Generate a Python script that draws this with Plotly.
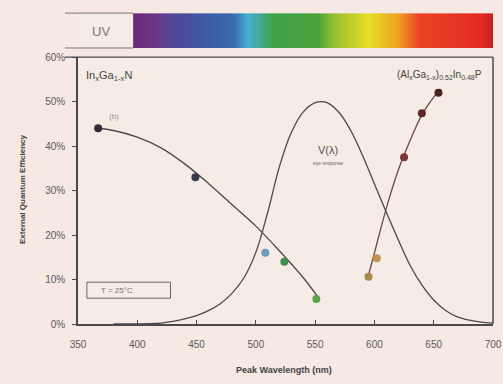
import plotly.graph_objects as go

# ---------------- data ----------------
ingan_wl = [367, 449, 508, 524, 551]
ingan_eqe = [44.0, 33.0, 16.0, 14.0, 5.6]
ingan_colors = ["#3a2a36", "#3a3a52", "#6c9cbc", "#3f8c4c", "#5da244"]

ingan_fit_wl = [367, 380, 400, 420, 440, 460, 480, 500, 520, 540, 552]
ingan_fit_eqe = [44.0, 43.5, 42.0, 39.6, 36.0, 31.6, 26.8, 22.0, 16.4, 10.4, 6.2]

algainp_wl = [595, 602, 625, 640, 654]
algainp_eqe = [10.6, 14.8, 37.5, 47.4, 52.0]
algainp_colors = ["#a88848", "#c49050", "#7a3838", "#5c2828", "#4a2020"]

algainp_fit_wl = [594, 600, 610, 620, 630, 640, 650, 656]
algainp_fit_eqe = [10.0, 16.0, 26.0, 34.5, 41.2, 47.0, 51.0, 52.8]

v_wl = [380, 390, 400, 410, 420, 430, 440, 450, 460, 470, 480, 490, 500, 510, 520,
        530, 540, 550, 555, 560, 570, 580, 590, 600, 610, 620, 630, 640, 650, 660,
        670, 680, 690, 700]
v_pct = [0.0, 0.01, 0.02, 0.06, 0.2, 0.6, 1.15, 1.9, 3.0, 4.55, 6.95, 10.4, 16.1, 25.1,
         35.5, 43.1, 47.7, 49.75, 50.0, 49.75, 47.6, 43.5, 37.9, 31.5, 25.1, 19.0,
         13.2, 8.8, 5.4, 3.05, 1.6, 0.85, 0.41, 0.2]

spectrum_wl = [397, 411, 425, 453, 481, 493, 515, 552, 566, 595, 620, 637, 690, 700]
spectrum_colors = ["#6a2a7c", "#6e3384", "#5a4294", "#3c58a2", "#3a6cae", "#42b0d2",
                   "#3fa247", "#4aa23c", "#98c230", "#e8de22", "#f0a024", "#ea4424",
                   "#e42a22", "#c22222"]

x_ticks = [350, 400, 450, 500, 550, 600, 650, 700]
y_ticks = [0, 10, 20, 30, 40, 50, 60]

# ---------------- figure ----------------
FONT = "Liberation Sans, Arial, sans-serif"
LINE = "#4a4a4a"
fig = go.Figure()

# spectrum bar (heatmap aligned to the wavelength axis)
lo, hi = spectrum_wl[0], spectrum_wl[-1]
cscale = [[(w - lo) / (hi - lo), c] for w, c in zip(spectrum_wl, spectrum_colors)]
bar_x = list(range(lo, hi + 1))
fig.add_trace(go.Heatmap(x=bar_x, y=[0], z=[bar_x], colorscale=cscale, showscale=False,
                         hoverinfo="skip", xaxis="x", yaxis="y2", zsmooth="best"))

# V(lambda)
fig.add_trace(go.Scatter(x=v_wl, y=v_pct, mode="lines", line=dict(color=LINE, width=1.3, shape="spline"),
                         hoverinfo="skip", showlegend=False))
# fits
fig.add_trace(go.Scatter(x=ingan_fit_wl, y=ingan_fit_eqe, mode="lines",
                         line=dict(color=LINE, width=1.3, shape="spline"), showlegend=False))
fig.add_trace(go.Scatter(x=algainp_fit_wl, y=algainp_fit_eqe, mode="lines",
                         line=dict(color="#6a4a44", width=1.3, shape="spline"), showlegend=False))
# points
fig.add_trace(go.Scatter(x=ingan_wl, y=ingan_eqe, mode="markers",
                         marker=dict(color=ingan_colors, size=8, line=dict(width=0)), showlegend=False))
fig.add_trace(go.Scatter(x=algainp_wl, y=algainp_eqe, mode="markers",
                         marker=dict(color=algainp_colors, size=8, line=dict(width=0)), showlegend=False))

tickfont = dict(family=FONT, size=10, color="#5a5a5a")
fig.update_layout(
    width=503, height=384,
    margin=dict(l=78, r=10, t=10, b=60),
    paper_bgcolor="#f6e8e3",
    plot_bgcolor="#f5ece6",
    font=dict(family=FONT, color="#444"),
    xaxis=dict(range=[350, 700], tickvals=x_ticks, ticktext=[str(v) for v in x_ticks],
               showgrid=False, zeroline=False, showline=True, linecolor=LINE, linewidth=1.5,
               ticks="inside", ticklen=4, tickcolor=LINE, tickfont=tickfont, ticklabelstandoff=10,
               automargin=False),
    yaxis=dict(domain=[0, 0.85], range=[0, 60], tickvals=y_ticks, ticktext=[f"{v}%" for v in y_ticks],
               showgrid=False, zeroline=False, showline=True, linecolor=LINE, linewidth=1.5,
               ticks="outside", ticklen=4, tickcolor=LINE, tickfont=tickfont, ticklabelstandoff=5,
               automargin=False),
    yaxis2=dict(domain=[0.879, 0.99], range=[-0.5, 0.5], visible=False, anchor="x"),
    showlegend=False,
)

# frame lines and UV box
def px2paper(px):
    return (px - 78) / 415.0

def py2paper(py):
    return (324 - py) / 314.0

shapes = [
    dict(type="line", xref="paper", yref="paper", x0=px2paper(65), x1=1, y0=0.85, y1=0.85,
         line=dict(color=LINE, width=1.2)),
    dict(type="line", xref="paper", yref="paper", x0=1, x1=1, y0=0, y1=0.85,
         line=dict(color=LINE, width=1.5)),
    dict(type="line", xref="paper", yref="paper", x0=px2paper(65), x1=px2paper(133), y0=0.99, y1=0.99,
         line=dict(color="#777", width=1)),
    dict(type="line", xref="paper", yref="paper", x0=px2paper(65), x1=px2paper(133), y0=0.879, y1=0.879,
         line=dict(color="#777", width=1)),
    dict(type="rect", xref="x", yref="y", x0=357.5, x1=428, y0=5.8, y1=9.4,
         line=dict(color="#666", width=1)),
]
fig.update_layout(shapes=shapes)

ann = [
    dict(x=px2paper(101), y=py2paper(32), xref="paper", yref="paper", text="UV", showarrow=False,
         xanchor="center", yanchor="middle", font=dict(family=FONT, size=13, color="#777")),
    dict(x=px2paper(284), y=py2paper(370), xref="paper", yref="paper", text="<b>Peak Wavelength (nm)</b>",
         showarrow=False, xanchor="center", yanchor="middle", font=dict(family=FONT, size=9, color="#444")),
    dict(x=px2paper(22), y=py2paper(190), xref="paper", yref="paper", text="<b>External Quantum Efficiency</b>",
         showarrow=False, xanchor="center", yanchor="middle", textangle=-90,
         font=dict(family=FONT, size=8, color="#444")),
    dict(x=355, y=55.8, xref="x", yref="y", text="In<sub>x</sub>Ga<sub>1-x</sub>N", showarrow=False,
         xanchor="left", font=dict(family=FONT, size=11, color="#444")),
    dict(x=692, y=56.0, xref="x", yref="y",
         text="(Al<sub>x</sub>Ga<sub>1-x</sub>)<sub>0.52</sub>In<sub>0.48</sub>P", showarrow=False,
         xanchor="right", font=dict(family=FONT, size=10, color="#444")),
    dict(x=380, y=46.6, xref="x", yref="y", text="(b)", showarrow=False,
         font=dict(family=FONT, size=8, color="#999")),
    dict(x=561, y=39.2, xref="x", yref="y", text="V(λ)", showarrow=False,
         font=dict(family=FONT, size=11, color="#555")),
    dict(x=561, y=36.2, xref="x", yref="y", text="eye response", showarrow=False,
         font=dict(family=FONT, size=5, color="#666")),
    dict(x=368, y=7.6, xref="x", yref="y", text="T = 25°C", showarrow=False, xanchor="left",
         font=dict(family=FONT, size=8, color="#777")),
]
fig.update_layout(annotations=ann)

fig.write_html("out.html", config={"displayModeBar": False},
               post_script="document.body.style.margin='0';document.body.style.overflow='hidden';")
